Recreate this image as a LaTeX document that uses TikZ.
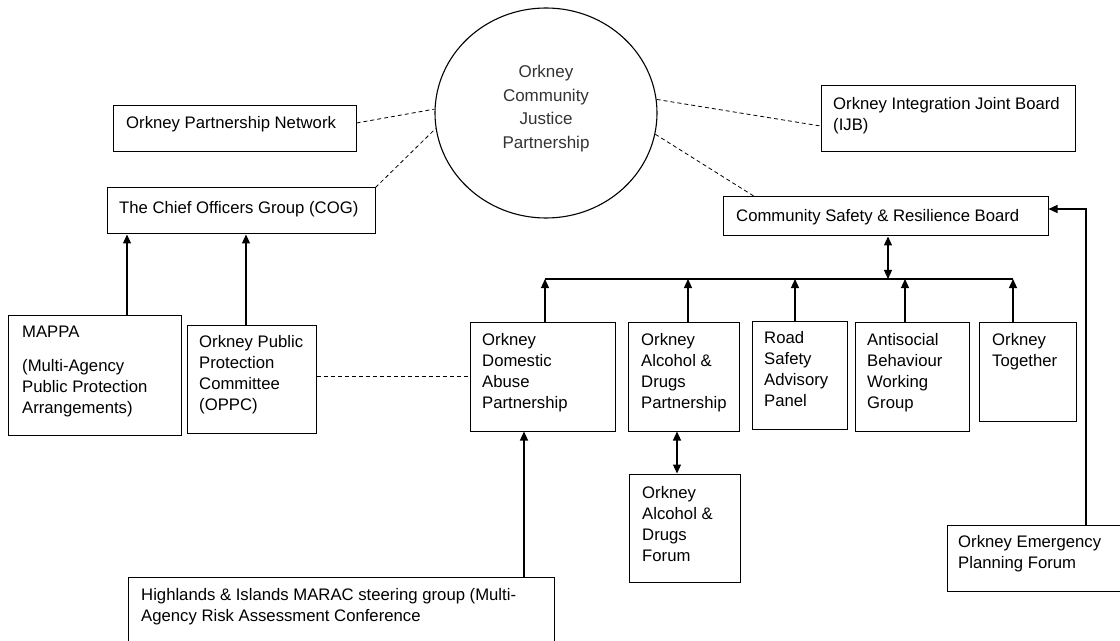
\documentclass[tikz,border=0pt]{standalone}
\usepackage{fontspec}
\setmainfont{Liberation Sans}
\usetikzlibrary{arrows.meta,shapes.geometric,fit}
\tikzset{
  box/.style={draw=black, line width=1bp, inner sep=0pt},
  txt/.style={inner sep=0pt, anchor=north west, align=left, text=black},
  arr/.style={line width=1.1bp, -{Triangle[length=9bp,width=8bp]}},
  darr/.style={line width=1.1bp, {Triangle[length=9bp,width=8bp]}-{Triangle[length=9bp,width=8bp]}},
  dsh/.style={line width=0.8bp, dash pattern=on 4bp off 3bp},
  every node/.style={font=\fontsize{16.7bp}{21bp}\selectfont}
}
\newcommand\mkbox[5]{\node[box, fit={(#2,#3) (#4,#5)}] (#1) {};}
\newcommand\mktxt[4]{\node[txt] (#1) at (#2,#3-14.7) {\strut #4};}
\begin{document}
\begin{tikzpicture}[x=1bp,y=-1bp]
\useasboundingbox (0,0) rectangle (1120,641);
\clip (0,0) rectangle (1120,641);

% central ellipse
\node[draw=black, line width=1.1bp, ellipse, minimum width=222bp, minimum height=210bp, inner sep=0pt] (cjp) at (546,113) {};
\node[align=center, text=black!80, font=\fontsize{17bp}{23.5bp}\selectfont] (cjpt) at (546,108.5) {Orkney\\Community\\Justice\\Partnership};

% boxes
\mkbox{opn}{113}{106}{356}{152}
\mktxt{opnt}{126}{128}{Orkney Partnership Network}
\mkbox{cog}{107}{188}{375}{234}
\mktxt{cogt}{119}{213}{The Chief Officers Group (COG)}
\mkbox{ijb}{821}{86}{1075}{152}
\mktxt{ijbt}{833}{109}{Orkney Integration Joint Board\\\strut(IJB)}
\mkbox{csrb}{723}{197}{1048}{236}
\mktxt{csrbt}{736}{221}{Community Safety \& Resilience Board}
\mkbox{mappa}{8}{315}{181}{435}
\mktxt{mappat}{22}{337}{MAPPA\\[13bp]\strut(Multi-Agency\\\strut Public Protection\\\strut Arrangements)}
\mkbox{oppc}{187}{325}{316}{433}
\mktxt{oppct}{199}{347}{Orkney Public\\\strut Protection\\\strut Committee\\\strut (OPPC)}
\mkbox{odap}{470}{322}{615}{431}
\mktxt{odapt}{482}{345}{Orkney\\\strut Domestic\\\strut Abuse\\\strut Partnership}
\mkbox{oadp}{628}{322}{739}{431}
\mktxt{oadpt}{641}{345}{Orkney\\\strut Alcohol \&\\\strut Drugs\\\strut Partnership}
\mkbox{road}{752}{321}{847}{429}
\mktxt{roadt}{764}{343}{Road\\\strut Safety\\\strut Advisory\\\strut Panel}
\mkbox{asb}{855}{322}{969}{431}
\mktxt{asbt}{867}{345}{Antisocial\\\strut Behaviour\\\strut Working\\\strut Group}
\mkbox{tog}{979}{322}{1076}{421}
\mktxt{togt}{992}{345}{Orkney\\\strut Together}
\mkbox{forum}{629}{474}{740}{582}
\mktxt{forumt}{642}{498}{Orkney\\\strut Alcohol \&\\\strut Drugs\\\strut Forum}
\mkbox{marac}{128}{577}{554}{660}
\mktxt{maract}{141}{600}{Highlands \& Islands MARAC steering group (Multi-\\\strut Agency Risk Assessment Conference}
\mkbox{epf}{947}{525}{1130}{591}
\mktxt{epft}{958}{547}{Orkney Emergency\\\strut Planning Forum}

% helper coordinates
\coordinate (c127) at (127,0);
\coordinate (c246) at (246,0);
\coordinate (bl) at (545,279);
\coordinate (br) at (1013,279);
\coordinate (c545) at (545,0);
\coordinate (c688) at (688,0);
\coordinate (c795) at (795,0);
\coordinate (c905) at (905,0);
\coordinate (c1013) at (1013,0);
\coordinate (c888) at (888,0);
\coordinate (c677) at (677,0);
\coordinate (c524) at (524,0);
\coordinate (c1086) at (1086,0);
\coordinate (yd) at (0,376);

% dashed links
\draw[dsh] ([yshift=6bp]opn.east) -- (cjp.178);
\draw[dsh] (cog.north east) -- (cjp.188);
\draw[dsh] (cjp.7) -- ([yshift=-7bp]ijb.west);
\draw[dsh] (cjp.349) -- ([xshift=32bp]csrb.north west);
\draw[dsh] (oppc.east |- yd) -- (odap.west |- yd);

% arrows to COG
\draw[arr] (mappa.north -| c127) -- (cog.south -| c127);
\draw[arr] (oppc.north -| c246) -- (cog.south -| c246);

% bus
\draw[line width=1.1bp] (bl) -- (br);
\draw[arr] (odap.north -| c545) -- (c545 |- bl);
\draw[arr] (oadp.north -| c688) -- (c688 |- bl);
\draw[arr] (road.north -| c795) -- (c795 |- bl);
\draw[arr] (asb.north -| c905) -- (c905 |- bl);
\draw[arr] (tog.north -| c1013) -- (c1013 |- bl);
\draw[darr] (csrb.south -| c888) -- (c888 |- bl);

% others
\draw[darr] (oadp.south -| c677) -- (forum.north -| c677);
\draw[arr] (marac.north -| c524) -- (odap.south -| c524);
\draw[arr] (epf.north -| c1086) |- ([yshift=7.5bp]csrb.east);
\end{tikzpicture}
\end{document}
